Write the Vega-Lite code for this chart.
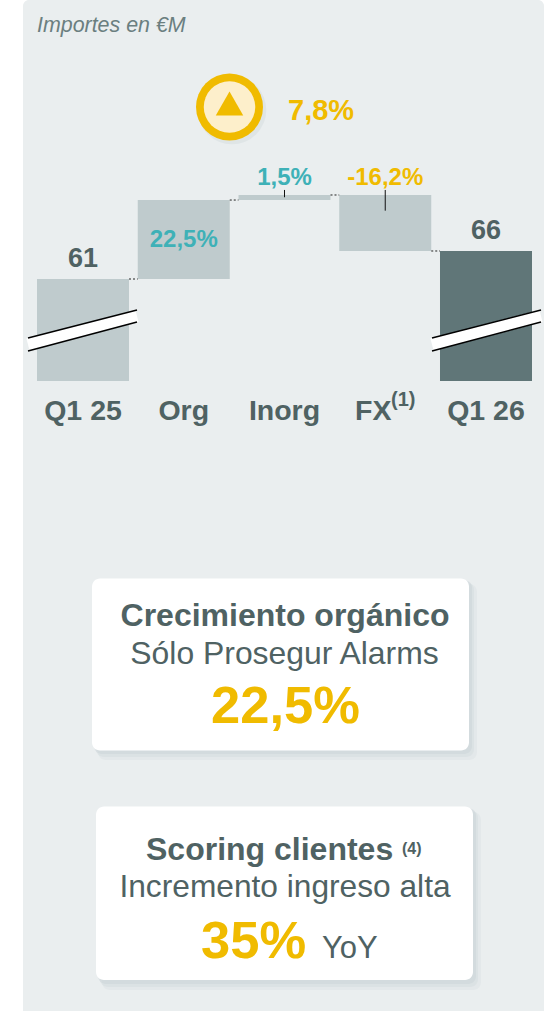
{
"$schema":"https://vega.github.io/schema/vega-lite/v6.json",
"width":551,"height":1011,"padding":0,"autosize":{"type":"none"},"background":"white",
"config":{"view":{"stroke":null},"text":{"font":"Liberation Sans","baseline":"alphabetic"}},
"datasets":{
"puente":[
{"concepto":"Q1 25","inicio":42.8,"fin":61,"etiqueta":"61","siguiente":"Org"},
{"concepto":"Org","inicio":61,"fin":75.1,"etiqueta":"22,5%","siguiente":"Inorg"},
{"concepto":"Inorg","inicio":75.1,"fin":76,"etiqueta":"1,5%","siguiente":"FX","guia_sup":76.9,"guia_inf":75.6},
{"concepto":"FX","inicio":76,"fin":66,"etiqueta":"-16,2%","siguiente":"Q1 26","guia_sup":76.9,"guia_inf":73.2},
{"concepto":"Q1 26","inicio":42.8,"fin":66,"etiqueta":"66"}
]},
"resolve":{"scale":{"x":"independent","y":"independent"}},
"layer":[
{"data":{"values":[{"capa":"fondo"}]},"layer":[
 {"mark":{"type":"rect","color":"#EAEEEF","cornerRadius":6},
  "encoding":{"x":{"datum":23,"type":"quantitative","axis":null,"scale":{"domain":[0,551],"range":[0,551]}},"x2":{"datum":544},
   "y":{"datum":0,"type":"quantitative","axis":null,"scale":{"domain":[0,1011],"range":[0,1011]}},"y2":{"datum":1030}}}
]},
{"data":{"name":"puente"},"encoding":{
  "x":{"field":"concepto","type":"nominal","sort":null,
   "scale":{"domain":["Q1 25","Org","Inorg","FX","Q1 26"],"range":[37,532],"paddingInner":0.0868,"paddingOuter":0},
   "axis":{"orient":"bottom","title":null,"domain":false,"ticks":false,"labelAngle":0,"labelPadding":0,"offset":-592,"zindex":1,
     "labelBaseline":"alphabetic","labelFont":"Liberation Sans","labelFontSize":28.5,"labelFontWeight":"bold","labelColor":"#4F6263",
     "labelOffset":{"condition":{"test":"datum.label==='FX'","value":-12},"value":0}}}},
 "layer":[
 {"mark":{"type":"bar"},
  "encoding":{"y":{"field":"inicio","type":"quantitative","scale":{"domain":[-69.71,110.82],"range":[1011,0],"zero":false,"nice":false},"axis":null},"y2":{"field":"fin"},
   "color":{"field":"concepto","type":"nominal","legend":null,"scale":{"domain":["Q1 25","Org","Inorg","FX","Q1 26"],"range":["#BFCBCD","#BFCBCD","#BFCBCD","#BFCBCD","#607678"]}}}},
 {"transform":[{"filter":"datum.siguiente"}],"mark":{"type":"rule","color":"#222222","strokeWidth":1,"strokeDash":[2,2],"xOffset":46,"x2Offset":-46},
  "encoding":{"x2":{"field":"siguiente"},"y":{"field":"fin","type":"quantitative"}}},
 {"transform":[{"filter":"datum.guia_sup"}],"mark":{"type":"rule","color":"#111111","strokeWidth":1},
  "encoding":{"y":{"field":"guia_sup","type":"quantitative"},"y2":{"field":"guia_inf"}}},
 {"transform":[{"filter":"datum.concepto==='Q1 25'||datum.concepto==='Q1 26'"}],"mark":{"type":"text","fontSize":27,"fontWeight":"bold","color":"#4F6263","dy":-12},
  "encoding":{"y":{"field":"fin","type":"quantitative"},"text":{"field":"etiqueta"}}},
 {"transform":[{"filter":"datum.concepto==='Org'"}],"mark":{"type":"text","fontSize":24,"fontWeight":"bold","color":"#3EB1B7","dy":47},
  "encoding":{"y":{"field":"fin","type":"quantitative"},"text":{"field":"etiqueta"}}},
 {"transform":[{"filter":"datum.concepto==='Inorg'"}],"mark":{"type":"text","fontSize":24,"fontWeight":"bold","color":"#3EB1B7","dy":-10},
  "encoding":{"y":{"field":"fin","type":"quantitative"},"text":{"field":"etiqueta"}}},
 {"transform":[{"filter":"datum.concepto==='FX'"}],"mark":{"type":"text","fontSize":24,"fontWeight":"bold","color":"#F0BB00","dy":-10},
  "encoding":{"y":{"field":"inicio","type":"quantitative"},"text":{"field":"etiqueta"}}}
 ]},
{"data":{"values":[{"capa":"anotaciones"}]},"layer":[
 {"mark":{"type":"rule","color":"white","strokeWidth":12.5},"encoding":{"x":{"datum":28,"type":"quantitative","axis":null,"scale":{"domain":[0,551],"range":[0,551]}},"x2":{"datum":137},"y":{"datum":344.5,"type":"quantitative","axis":null,"scale":{"domain":[0,1011],"range":[0,1011]}},"y2":{"datum":316}}},
 {"mark":{"type":"rule","color":"white","strokeWidth":12.5},"encoding":{"x":{"datum":432,"type":"quantitative","axis":null,"scale":{"domain":[0,551],"range":[0,551]}},"x2":{"datum":541},"y":{"datum":344.5,"type":"quantitative","axis":null,"scale":{"domain":[0,1011],"range":[0,1011]}},"y2":{"datum":316}}},
 {"mark":{"type":"rule","color":"black","strokeWidth":1.5},"encoding":{"x":{"datum":28,"type":"quantitative","axis":null,"scale":{"domain":[0,551],"range":[0,551]}},"x2":{"datum":137},"y":{"datum":338,"type":"quantitative","axis":null,"scale":{"domain":[0,1011],"range":[0,1011]}},"y2":{"datum":310}}},
 {"mark":{"type":"rule","color":"black","strokeWidth":1.5},"encoding":{"x":{"datum":28,"type":"quantitative","axis":null,"scale":{"domain":[0,551],"range":[0,551]}},"x2":{"datum":137},"y":{"datum":351,"type":"quantitative","axis":null,"scale":{"domain":[0,1011],"range":[0,1011]}},"y2":{"datum":322}}},
 {"mark":{"type":"rule","color":"black","strokeWidth":1.5},"encoding":{"x":{"datum":432,"type":"quantitative","axis":null,"scale":{"domain":[0,551],"range":[0,551]}},"x2":{"datum":541},"y":{"datum":338,"type":"quantitative","axis":null,"scale":{"domain":[0,1011],"range":[0,1011]}},"y2":{"datum":310}}},
 {"mark":{"type":"rule","color":"black","strokeWidth":1.5},"encoding":{"x":{"datum":432,"type":"quantitative","axis":null,"scale":{"domain":[0,551],"range":[0,551]}},"x2":{"datum":541},"y":{"datum":351,"type":"quantitative","axis":null,"scale":{"domain":[0,1011],"range":[0,1011]}},"y2":{"datum":322}}},

 {"mark":{"type":"point","filled":true,"shape":"circle","color":"#CBD5D8","opacity":0.35,"size":4700},"encoding":{"x":{"datum":232,"type":"quantitative","axis":null,"scale":{"domain":[0,551],"range":[0,551]}},"y":{"datum":110,"type":"quantitative","axis":null,"scale":{"domain":[0,1011],"range":[0,1011]}}}},
 {"mark":{"type":"point","filled":true,"shape":"circle","color":"#F0BB00","opacity":1,"size":4489},"encoding":{"x":{"datum":229.5,"type":"quantitative","axis":null,"scale":{"domain":[0,551],"range":[0,551]}},"y":{"datum":107,"type":"quantitative","axis":null,"scale":{"domain":[0,1011],"range":[0,1011]}}}},
 {"mark":{"type":"point","filled":true,"shape":"circle","color":"#FDEFCB","opacity":1,"size":2650},"encoding":{"x":{"datum":229.5,"type":"quantitative","axis":null,"scale":{"domain":[0,551],"range":[0,551]}},"y":{"datum":107,"type":"quantitative","axis":null,"scale":{"domain":[0,1011],"range":[0,1011]}}}},
 {"mark":{"type":"point","filled":true,"shape":"triangle-up","color":"#F0BB00","opacity":1,"size":756},"encoding":{"x":{"datum":229.5,"type":"quantitative","axis":null,"scale":{"domain":[0,551],"range":[0,551]}},"y":{"datum":103.5,"type":"quantitative","axis":null,"scale":{"domain":[0,1011],"range":[0,1011]}}}},

 {"mark":{"type":"rect","color":"#C9D3D7","opacity":0.2,"cornerRadius":8},"encoding":{"x":{"datum":98,"type":"quantitative","axis":null,"scale":{"domain":[0,551],"range":[0,551]}},"x2":{"datum":477},"y":{"datum":584,"type":"quantitative","axis":null,"scale":{"domain":[0,1011],"range":[0,1011]}},"y2":{"datum":760}}},
 {"mark":{"type":"rect","color":"#C9D3D7","opacity":0.3,"cornerRadius":8},"encoding":{"x":{"datum":96,"type":"quantitative","axis":null,"scale":{"domain":[0,551],"range":[0,551]}},"x2":{"datum":474},"y":{"datum":582,"type":"quantitative","axis":null,"scale":{"domain":[0,1011],"range":[0,1011]}},"y2":{"datum":757}}},
 {"mark":{"type":"rect","color":"#C9D3D7","opacity":0.45,"cornerRadius":8},"encoding":{"x":{"datum":94,"type":"quantitative","axis":null,"scale":{"domain":[0,551],"range":[0,551]}},"x2":{"datum":472},"y":{"datum":580,"type":"quantitative","axis":null,"scale":{"domain":[0,1011],"range":[0,1011]}},"y2":{"datum":754}}},
 {"mark":{"type":"rect","color":"white","cornerRadius":8},"encoding":{"x":{"datum":92,"type":"quantitative","axis":null,"scale":{"domain":[0,551],"range":[0,551]}},"x2":{"datum":469},"y":{"datum":578.5,"type":"quantitative","axis":null,"scale":{"domain":[0,1011],"range":[0,1011]}},"y2":{"datum":750.5}}},

 {"mark":{"type":"rect","color":"#C9D3D7","opacity":0.2,"cornerRadius":8},"encoding":{"x":{"datum":102,"type":"quantitative","axis":null,"scale":{"domain":[0,551],"range":[0,551]}},"x2":{"datum":481},"y":{"datum":812,"type":"quantitative","axis":null,"scale":{"domain":[0,1011],"range":[0,1011]}},"y2":{"datum":990}}},
 {"mark":{"type":"rect","color":"#C9D3D7","opacity":0.3,"cornerRadius":8},"encoding":{"x":{"datum":100,"type":"quantitative","axis":null,"scale":{"domain":[0,551],"range":[0,551]}},"x2":{"datum":478},"y":{"datum":810,"type":"quantitative","axis":null,"scale":{"domain":[0,1011],"range":[0,1011]}},"y2":{"datum":987}}},
 {"mark":{"type":"rect","color":"#C9D3D7","opacity":0.45,"cornerRadius":8},"encoding":{"x":{"datum":98,"type":"quantitative","axis":null,"scale":{"domain":[0,551],"range":[0,551]}},"x2":{"datum":476},"y":{"datum":808,"type":"quantitative","axis":null,"scale":{"domain":[0,1011],"range":[0,1011]}},"y2":{"datum":984}}},
 {"mark":{"type":"rect","color":"white","cornerRadius":8},"encoding":{"x":{"datum":96,"type":"quantitative","axis":null,"scale":{"domain":[0,551],"range":[0,551]}},"x2":{"datum":473},"y":{"datum":806.5,"type":"quantitative","axis":null,"scale":{"domain":[0,1011],"range":[0,1011]}},"y2":{"datum":980}}},

 {"data":{"values":[{"t":"Importes en €M"}]},"mark":{"type":"text","align":"left","fontSize":21.4,"fontStyle":"italic","color":"#6B7F80"},"encoding":{"text":{"field":"t"},"x":{"datum":37,"type":"quantitative","axis":null,"scale":{"domain":[0,551],"range":[0,551]}},"y":{"datum":32,"type":"quantitative","axis":null,"scale":{"domain":[0,1011],"range":[0,1011]}}}},
 {"data":{"values":[{"t":"7,8%"}]},"mark":{"type":"text","align":"left","fontSize":29,"fontWeight":"bold","color":"#F0BB00"},"encoding":{"text":{"field":"t"},"x":{"datum":288,"type":"quantitative","axis":null,"scale":{"domain":[0,551],"range":[0,551]}},"y":{"datum":120,"type":"quantitative","axis":null,"scale":{"domain":[0,1011],"range":[0,1011]}}}},
 {"data":{"values":[{"t":"(1)"}]},"mark":{"type":"text","align":"left","fontSize":20,"fontWeight":"bold","color":"#4F6263"},"encoding":{"text":{"field":"t"},"x":{"datum":391,"type":"quantitative","axis":null,"scale":{"domain":[0,551],"range":[0,551]}},"y":{"datum":406,"type":"quantitative","axis":null,"scale":{"domain":[0,1011],"range":[0,1011]}}}},
 {"data":{"values":[{"t":"Crecimiento orgánico"}]},"mark":{"type":"text","align":"center","fontSize":32,"fontWeight":"bold","color":"#4F6263"},"encoding":{"text":{"field":"t"},"x":{"datum":285,"type":"quantitative","axis":null,"scale":{"domain":[0,551],"range":[0,551]}},"y":{"datum":626,"type":"quantitative","axis":null,"scale":{"domain":[0,1011],"range":[0,1011]}}}},
 {"data":{"values":[{"t":"Sólo Prosegur Alarms"}]},"mark":{"type":"text","align":"center","fontSize":31.9,"color":"#4F6263"},"encoding":{"text":{"field":"t"},"x":{"datum":284.5,"type":"quantitative","axis":null,"scale":{"domain":[0,551],"range":[0,551]}},"y":{"datum":664,"type":"quantitative","axis":null,"scale":{"domain":[0,1011],"range":[0,1011]}}}},
 {"data":{"values":[{"t":"22,5%"}]},"mark":{"type":"text","align":"center","fontSize":52.5,"fontWeight":"bold","color":"#F0BB00"},"encoding":{"text":{"field":"t"},"x":{"datum":285.5,"type":"quantitative","axis":null,"scale":{"domain":[0,551],"range":[0,551]}},"y":{"datum":723,"type":"quantitative","axis":null,"scale":{"domain":[0,1011],"range":[0,1011]}}}},
 {"data":{"values":[{"t":"Scoring clientes"}]},"mark":{"type":"text","align":"left","fontSize":32,"fontWeight":"bold","color":"#4F6263"},"encoding":{"text":{"field":"t"},"x":{"datum":146,"type":"quantitative","axis":null,"scale":{"domain":[0,551],"range":[0,551]}},"y":{"datum":860,"type":"quantitative","axis":null,"scale":{"domain":[0,1011],"range":[0,1011]}}}},
 {"data":{"values":[{"t":"(4)"}]},"mark":{"type":"text","align":"left","fontSize":16,"fontWeight":"bold","color":"#4F6263"},"encoding":{"text":{"field":"t"},"x":{"datum":402,"type":"quantitative","axis":null,"scale":{"domain":[0,551],"range":[0,551]}},"y":{"datum":854,"type":"quantitative","axis":null,"scale":{"domain":[0,1011],"range":[0,1011]}}}},
 {"data":{"values":[{"t":"Incremento ingreso alta"}]},"mark":{"type":"text","align":"center","fontSize":31.7,"color":"#4F6263"},"encoding":{"text":{"field":"t"},"x":{"datum":285,"type":"quantitative","axis":null,"scale":{"domain":[0,551],"range":[0,551]}},"y":{"datum":897,"type":"quantitative","axis":null,"scale":{"domain":[0,1011],"range":[0,1011]}}}},
 {"data":{"values":[{"t":"35%"}]},"mark":{"type":"text","align":"left","fontSize":52.5,"fontWeight":"bold","color":"#F0BB00"},"encoding":{"text":{"field":"t"},"x":{"datum":201,"type":"quantitative","axis":null,"scale":{"domain":[0,551],"range":[0,551]}},"y":{"datum":958,"type":"quantitative","axis":null,"scale":{"domain":[0,1011],"range":[0,1011]}}}},
 {"data":{"values":[{"t":"YoY"}]},"mark":{"type":"text","align":"left","fontSize":31,"color":"#4F6263"},"encoding":{"text":{"field":"t"},"x":{"datum":322,"type":"quantitative","axis":null,"scale":{"domain":[0,551],"range":[0,551]}},"y":{"datum":958,"type":"quantitative","axis":null,"scale":{"domain":[0,1011],"range":[0,1011]}}}}
]}
]
}
